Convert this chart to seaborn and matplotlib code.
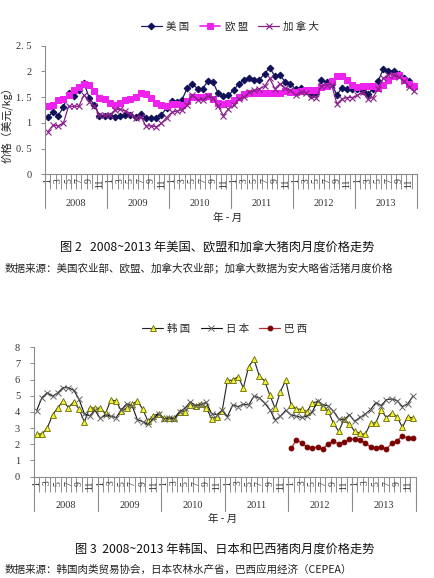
import numpy as np
import pandas as pd
import matplotlib
matplotlib.use('Agg')
import matplotlib.pyplot as plt
import matplotlib.transforms as mtransforms
import seaborn as sns

# ---------------- data ----------------
years = [2008, 2009, 2010, 2011, 2012, 2013]
months = list(range(1, 13))
month_labels = [str(m) if m % 2 == 1 else '' for m in months]

us = [1.12, 1.20, 1.14, 1.30, 1.58, 1.52, 1.63, 1.77, 1.49, 1.34, 1.14, 1.14,
      1.14, 1.12, 1.14, 1.15, 1.15, 1.12, 1.17, 1.10, 1.09, 1.09, 1.16, 1.28,
      1.43, 1.40, 1.45, 1.67, 1.76, 1.66, 1.66, 1.81, 1.79, 1.57, 1.52, 1.53,
      1.64, 1.75, 1.83, 1.87, 1.84, 1.84, 1.95, 2.07, 1.90, 1.93, 1.79, 1.75,
      1.66, 1.68, 1.62, 1.53, 1.57, 1.83, 1.79, 1.76, 1.54, 1.68, 1.65, 1.65,
      1.65, 1.62, 1.55, 1.66, 1.81, 2.04, 2.01, 2.00, 1.94, 1.86, 1.81, 1.71]
eu = [1.32, 1.34, 1.45, 1.46, 1.54, 1.63, 1.70, 1.76, 1.74, 1.62, 1.49, 1.46,
      1.39, 1.34, 1.38, 1.44, 1.46, 1.51, 1.58, 1.56, 1.48, 1.38, 1.34, 1.32,
      1.37, 1.36, 1.35, 1.43, 1.50, 1.50, 1.50, 1.52, 1.46, 1.39, 1.37, 1.39,
      1.45, 1.50, 1.55, 1.57, 1.57, 1.57, 1.57, 1.57, 1.57, 1.57, 1.62, 1.60,
      1.59, 1.62, 1.63, 1.63, 1.63, 1.70, 1.72, 1.81, 1.91, 1.90, 1.83, 1.74,
      1.70, 1.72, 1.72, 1.71, 1.68, 1.73, 1.83, 1.91, 1.92, 1.83, 1.76, 1.71]
canada = [0.83, 0.95, 0.94, 0.99, 1.32, 1.32, 1.32, 1.54, 1.41, 1.32, 1.15, 1.15,
          1.15, 1.25, 1.26, 1.23, 1.18, 1.10, 1.12, 0.94, 0.94, 0.92, 0.99, 1.10,
          1.20, 1.23, 1.25, 1.34, 1.54, 1.45, 1.45, 1.52, 1.48, 1.32, 1.14, 1.27,
          1.34, 1.46, 1.50, 1.59, 1.63, 1.66, 1.71, 1.86, 1.66, 1.76, 1.67, 1.63,
          1.54, 1.59, 1.58, 1.50, 1.49, 1.71, 1.74, 1.74, 1.37, 1.46, 1.49, 1.49,
          1.53, 1.59, 1.46, 1.49, 1.66, 1.86, 1.93, 1.93, 1.89, 1.81, 1.70, 1.61]

korea = [2.63, 2.63, 3.00, 3.81, 4.27, 4.68, 4.27, 4.62, 4.18, 3.37, 4.27, 4.22,
         4.22, 3.91, 4.74, 4.68, 4.04, 4.24, 4.47, 4.68, 4.18, 3.42, 3.77, 3.89,
         3.60, 3.64, 3.64, 4.02, 4.02, 4.41, 4.35, 4.51, 4.27, 3.58, 3.69, 4.06,
         5.96, 5.96, 6.19, 5.49, 6.79, 7.27, 6.23, 5.92, 5.03, 4.22, 5.26, 5.96,
         4.45, 4.18, 4.16, 4.02, 4.55, 4.64, 4.31, 4.06, 3.29, 2.80, 3.54, 3.25,
         2.80, 2.67, 2.61, 3.29, 3.33, 4.10, 3.64, 3.93, 3.71, 3.04, 3.71, 3.62]
japan = [4.08, 4.89, 5.18, 4.97, 5.18, 5.51, 5.49, 5.34, 4.78, 3.89, 3.75, 4.10,
         3.60, 3.83, 3.73, 3.64, 4.14, 4.51, 4.39, 3.52, 3.40, 3.23, 3.58, 3.89,
         3.56, 3.64, 3.56, 4.00, 4.24, 4.62, 4.39, 4.45, 4.60, 3.89, 3.83, 4.10,
         3.71, 4.43, 4.33, 4.47, 4.43, 4.97, 4.87, 4.55, 4.14, 3.50, 3.73, 4.10,
         3.81, 3.73, 3.66, 3.73, 4.00, 4.66, 4.45, 4.37, 4.04, 3.56, 3.50, 3.83,
         3.42, 3.66, 3.85, 4.14, 4.58, 4.39, 4.76, 4.80, 4.70, 4.33, 4.49, 4.97]
brazil_start_year = 2012
brazil = [1.74, 2.26, 2.09, 1.84, 1.74, 1.84, 1.70, 2.03, 2.19, 2.01, 2.13, 2.30,
          2.32, 2.24, 2.09, 1.82, 1.74, 1.84, 1.70, 2.05, 2.19, 2.53, 2.38, 2.38]

y1_ticks = [0, 0.5, 1, 1.5, 2, 2.5]
y1_labels = ['0', '0. 5', '1', '1. 5', '2', '2. 5']
y2_ticks = [0, 1, 2, 3, 4, 5, 6, 7, 8]
y2_labels = [str(t) for t in y2_ticks]

# ---------------- frames ----------------
n = len(years) * len(months)
period = np.arange(n)
df1 = pd.DataFrame({'t': period, 'us': us, 'eu': eu, 'ca': canada})
df2 = pd.DataFrame({'t': period, 'kr': korea, 'jp': japan})
b0 = years.index(brazil_start_year) * len(months)
df3 = pd.DataFrame({'t': np.arange(b0, b0 + len(brazil)), 'br': brazil})

# ---------------- style ----------------
sns.set_theme(style='white')
plt.rcParams['font.family'] = ['Noto Sans CJK SC', 'DejaVu Sans']
W, H = 434, 578
fig = plt.figure(figsize=(W / 100, H / 100), dpi=100)

def fx(px):
    return px / W

def fy(py):
    return 1 - py / H

GRAY = '#8c8c8c'
SERIF = 'Liberation Serif'


def style_axes(ax, yticks, ylabels, ymax):
    ax.set_xlim(-0.5, n - 0.5)
    ax.set_ylim(0, ymax)
    for s in ['top', 'right']:
        ax.spines[s].set_visible(False)
    for s in ['left', 'bottom']:
        ax.spines[s].set_color(GRAY)
        ax.spines[s].set_linewidth(0.8)
    ax.set_yticks(yticks)
    ax.set_yticklabels(ylabels, fontsize=7.5, family=SERIF, color='#333333')
    ax.tick_params(axis='y', direction='out', length=3, width=0.7, color=GRAY, pad=7, left=True)
    # category boundary ticks
    ax.set_xticks(np.arange(-0.5, n, 1))
    ax.set_xticklabels([''] * (n + 1))
    ax.tick_params(axis='x', which='major', direction='out', length=11, width=0.7,
                   color=GRAY, bottom=True)
    # month labels at category centers
    ax.set_xticks(period, minor=True)
    ax.set_xticklabels(month_labels * len(years), minor=True, rotation=90,
                       fontsize=7, family=SERIF, color='#333333')
    ax.tick_params(axis='x', which='minor', length=0, pad=3)
    ax.set_xlabel('')
    ax.set_ylabel('')
    trans = mtransforms.blended_transform_factory(ax.transData, ax.transAxes)
    for i, yr in enumerate(years):
        b = i * len(months) - 0.5
        ax.plot([b, b], [0, -0.265], transform=trans, color=GRAY, lw=0.8, clip_on=False)
        ax.text(i * len(months) + (len(months) - 1) / 2, -0.225, str(yr), transform=trans,
                ha='center', va='center', fontsize=7.5, family=SERIF, color='#333333')
    ax.plot([n - 0.5, n - 0.5], [0, -0.265], transform=trans, color=GRAY, lw=0.8, clip_on=False)


# ---------------- chart 1 ----------------
ax1 = fig.add_axes([fx(45.3), fy(174.3), fx(371.5), (174.3 - 45.5) / H])
sns.lineplot(data=df1, x='t', y='us', ax=ax1, color='#1a1a6e', lw=0.9, marker='D',
             markersize=3.4, markeredgecolor='#10105a', markerfacecolor='#10105a', label='美 国')
sns.lineplot(data=df1, x='t', y='eu', ax=ax1, color='#f02ff0', lw=1.3, marker='s',
             markersize=3.8, markeredgecolor='#ee22ee', markerfacecolor='#ee22ee', label='欧 盟')
sns.lineplot(data=df1, x='t', y='ca', ax=ax1, color='#8b1f8b', lw=0.9, marker='x',
             markersize=3.8, markeredgewidth=0.8, markeredgecolor='#8b1f8b', label='加 拿 大')
style_axes(ax1, y1_ticks, y1_labels, 2.5)
ax1.legend(loc='center', bbox_to_anchor=(fx(230), fy(27)), bbox_transform=fig.transFigure,
           ncol=3, frameon=False, fontsize=7.5, handlelength=2.0, columnspacing=1.0,
           handletextpad=0.4)
fig.text(fx(7), fy(122), '价格（美元/kg）', rotation=90, ha='center', va='center', fontsize=7.8,
         color='#222222')
fig.text(fx(228), fy(218), '年 - 月', ha='center', va='center', fontsize=7.5, color='#222222')
fig.text(fx(217), fy(247), '图 2   2008~2013 年美国、欧盟和加拿大猪肉月度价格走势', ha='center',
         va='center', fontsize=8.8, color='#111111')
fig.text(fx(5), fy(268), '数据来源：美国农业部、欧盟、加拿大农业部；加拿大数据为安大略省活猪月度价格',
         ha='left', va='center', fontsize=7.6, color='#222222')

# ---------------- chart 2 ----------------
ax2 = fig.add_axes([fx(34), fy(476.5), fx(381.6), (476.5 - 347.3) / H])
sns.lineplot(data=df2, x='t', y='kr', ax=ax2, color='#222222', lw=0.8, marker='^',
             markersize=4.4, markeredgewidth=0.6, markeredgecolor='#6b6b00',
             markerfacecolor='#f2f23a', label='韩 国')
sns.lineplot(data=df2, x='t', y='jp', ax=ax2, color='#111111', lw=0.8, marker='x',
             markersize=3.8, markeredgewidth=0.7, markeredgecolor='#666666', label='日 本')
sns.lineplot(data=df3, x='t', y='br', ax=ax2, color='#b03030', lw=0.9, marker='o',
             markersize=3.4, markeredgecolor='#7a0000', markerfacecolor='#7a0000', label='巴 西')
style_axes(ax2, y2_ticks, y2_labels, 8)
ax2.legend(loc='center', bbox_to_anchor=(fx(225), fy(329)), bbox_transform=fig.transFigure,
           ncol=3, frameon=False, fontsize=7.5, handlelength=2.0, columnspacing=1.0,
           handletextpad=0.4)
fig.text(fx(223), fy(519), '年 - 月', ha='center', va='center', fontsize=7.5, color='#222222')
fig.text(fx(225), fy(549), '图 3  2008~2013 年韩国、日本和巴西猪肉月度价格走势', ha='center',
         va='center', fontsize=8.8, color='#111111')
fig.text(fx(5), fy(570), '数据来源：韩国肉类贸易协会，日本农林水产省，巴西应用经济（CEPEA）',
         ha='left', va='center', fontsize=7.6, color='#222222')

fig.savefig('out.png', dpi=100)
